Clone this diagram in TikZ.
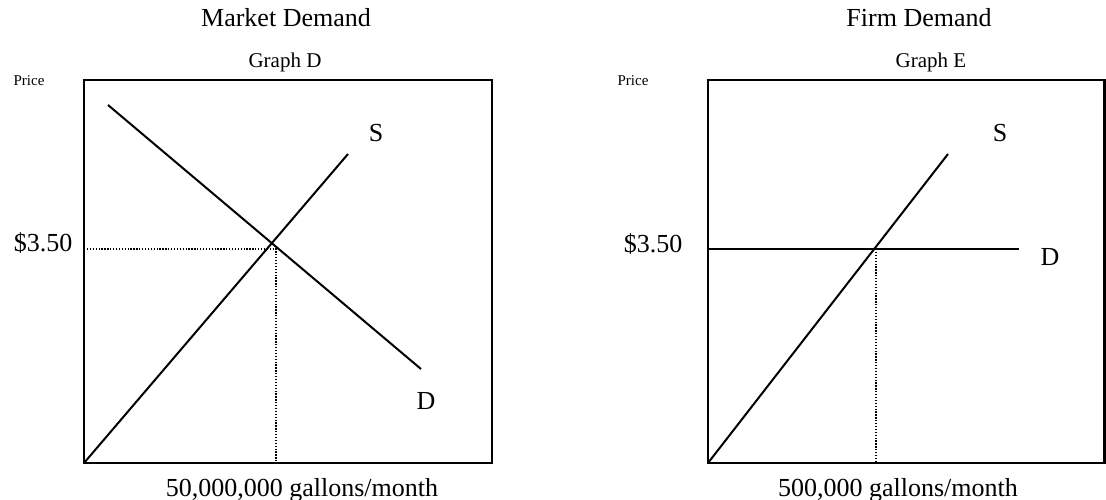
\documentclass[tikz,border=0pt]{standalone}
\usepackage{fontspec}
\setmainfont{Liberation Serif}
\usetikzlibrary{positioning}

\begin{document}
\begin{tikzpicture}[x=1pt,y=-1pt,
  every node/.style={inner sep=0pt,anchor=base},
  frame/.style={draw,line width=2.6pt},
  curve/.style={line width=2pt},
  guide/.style={line width=1.4pt,dash pattern=on 1.3pt off 1.6pt},
  headtxt/.style={font=\fontsize{26}{30}\selectfont},
  graphtxt/.style={font=\fontsize{21}{25}\selectfont},
  pricetxt/.style={font=\fontsize{15}{18}\selectfont}]
  \useasboundingbox (0,0) rectangle (1106,500);
  % Graph D (market)
  \coordinate (oD) at (84,463); \coordinate (tD) at (492,80);
  \coordinate (sD) at (348,154);
  \coordinate (dDa) at (108,105); \coordinate (dDb) at (421,369);
  \coordinate (eD) at (276,249);
  \draw[frame] (oD) rectangle (tD);
  \draw[curve] (oD) -- (sD);
  \draw[curve] (dDa) -- (dDb);
  \draw[guide] (oD |- eD) -- (eD) -- (eD |- oD);
  \node[headtxt] (mktD) at (286,27) {Market Demand};
  \node[graphtxt] (grD) at (285,68) {Graph D};
  \node[pricetxt] (prD) at (29,86) {Price};
  \node[headtxt] (pD) at (43,251) {\$3.50};
  \node[headtxt] (slD) at (376,142) {S};
  \node[headtxt] (dlD) at (426,409) {D};
  \node[headtxt] (qD) at (302,496) {50,000,000 gallons/month};
  % Graph E (firm)
  \coordinate (oE) at (708,463); \coordinate (tE) at (1104.5,80);
  \coordinate (sE) at (948,154);
  \coordinate (dEb) at (1019,249);
  \coordinate (eE) at (876,249);
  \draw[frame] (oE) rectangle (tE);
  \draw[curve] (oE) -- (sE);
  \draw[curve] (oE |- dEb) -- (dEb);
  \draw[guide] (eE) -- (eE |- oE);
  \node[headtxt] (mktE) at (919,27) {Firm Demand};
  \node[graphtxt] (grE) at (931,68) {Graph E};
  \node[pricetxt] (prE) at (633,86) {Price};
  \node[headtxt] (pE) at (653,252) {\$3.50};
  \node[headtxt] (slE) at (1000,142) {S};
  \node[headtxt] (dlE) at (1050,265) {D};
  \node[headtxt] (qE) at (898,496) {500,000 gallons/month};
\end{tikzpicture}
\end{document}
